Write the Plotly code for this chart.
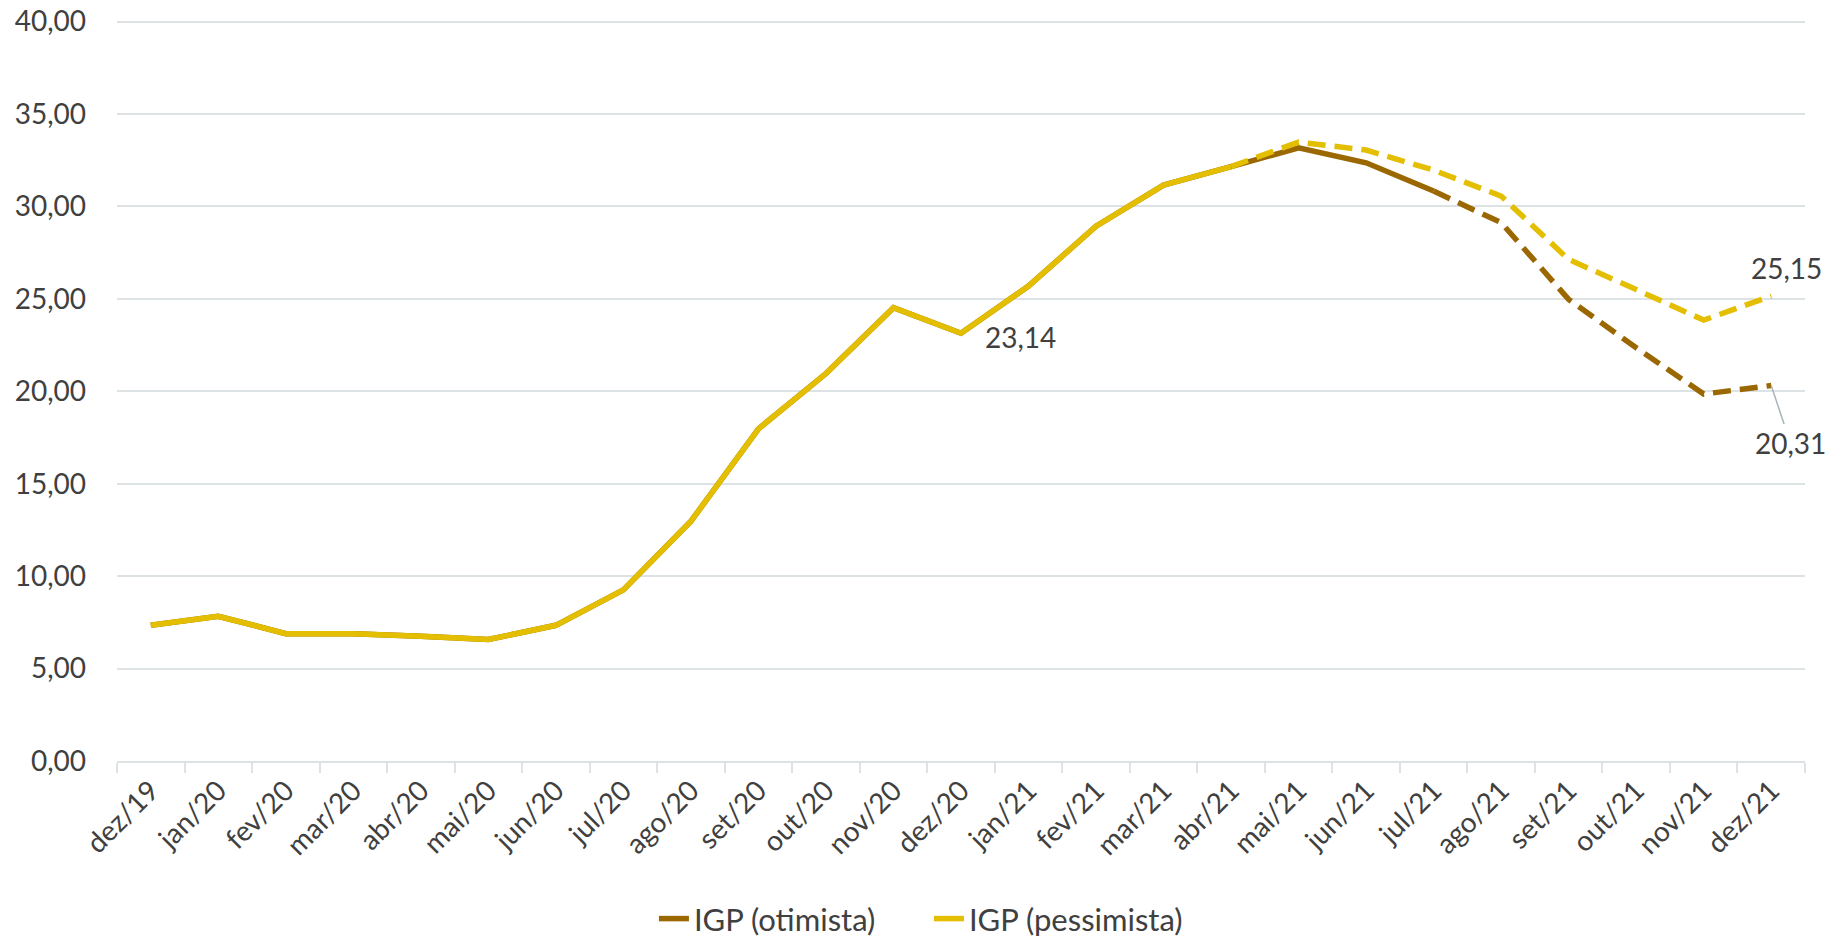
import plotly.graph_objects as go

categories = ["dez/19", "jan/20", "fev/20", "mar/20", "abr/20", "mai/20", "jun/20",
              "jul/20", "ago/20", "set/20", "out/20", "nov/20", "dez/20", "jan/21",
              "fev/21", "mar/21", "abr/21", "mai/21", "jun/21", "jul/21", "ago/21",
              "set/21", "out/21", "nov/21", "dez/21"]

otimista = [7.34, 7.83, 6.89, 6.89, 6.75, 6.57, 7.34, 9.26, 12.97, 17.97, 20.96, 24.52,
            23.14, 25.69, 28.93, 31.15, 32.15, 33.17, 32.36, 30.83, 29.12, 24.97, 22.35,
            19.85, 20.31]
pessimista = [7.34, 7.83, 6.89, 6.89, 6.75, 6.57, 7.34, 9.26, 12.97, 17.97, 20.96, 24.52,
              23.14, 25.69, 28.93, 31.15, 32.15, 33.48, 33.05, 31.96, 30.56, 27.13, 25.5,
              23.85, 25.15]

otim_solid_end = 19   # jul/21
pess_solid_end = 16   # abr/21

y_ticks = [0, 5, 10, 15, 20, 25, 30, 35, 40]

C_OTIM = "#9A6700"
C_PESS = "#E4BE00"
TXT = "#404040"
GRID = "#DDE2E5"
FONT = "Lato"
LW = 5.5
DASH = "18px,9px"

fig = go.Figure()
fig.add_trace(go.Scatter(x=categories[:otim_solid_end + 1], y=otimista[:otim_solid_end + 1],
                         mode="lines", name="IGP (otimista)", legendgroup="o",
                         line=dict(color=C_OTIM, width=LW)))
fig.add_trace(go.Scatter(x=categories[otim_solid_end:], y=otimista[otim_solid_end:],
                         mode="lines", name="IGP (otimista)", legendgroup="o", showlegend=False,
                         line=dict(color=C_OTIM, width=LW, dash=DASH)))
fig.add_trace(go.Scatter(x=categories[:pess_solid_end + 1], y=pessimista[:pess_solid_end + 1],
                         mode="lines", name="IGP (pessimista)", legendgroup="p",
                         line=dict(color=C_PESS, width=LW)))
fig.add_trace(go.Scatter(x=categories[pess_solid_end:], y=pessimista[pess_solid_end:],
                         mode="lines", name="IGP (pessimista)", legendgroup="p", showlegend=False,
                         line=dict(color=C_PESS, width=LW, dash=DASH)))

def fmt(v):
    return f"{v:.2f}".replace(".", ",")

i_dez20 = categories.index("dez/20")
fig.add_annotation(x=categories[i_dez20], y=pessimista[i_dez20], text=fmt(pessimista[i_dez20]),
                   showarrow=False, xshift=59, yshift=-4,
                   font=dict(family=FONT, size=28, color=TXT))
fig.add_annotation(x=categories[-1], y=pessimista[-1], text=fmt(pessimista[-1]),
                   showarrow=False, xshift=15, yshift=28,
                   font=dict(family=FONT, size=28, color=TXT))
fig.add_annotation(x=categories[-1], y=otimista[-1], text=fmt(otimista[-1]),
                   showarrow=True, arrowhead=0, arrowwidth=1.5, arrowcolor="#A9B4BA",
                   ax=19, ay=57, standoff=0,
                   font=dict(family=FONT, size=28, color=TXT))

fig.update_layout(
    width=1832, height=939,
    autosize=False,
    margin=dict(l=117, r=27, t=16, b=178, autoexpand=False),
    paper_bgcolor="white", plot_bgcolor="white",
    separators=",.",
    font=dict(family=FONT, size=28, color=TXT),
    showlegend=True,
    legend=dict(orientation="h", x=0.481, xanchor="center",
                y=-0.212, yanchor="middle", entrywidth=230,
                font=dict(family=FONT, size=31, color=TXT),
                bgcolor="rgba(0,0,0,0)"),
    xaxis=dict(type="category", range=[-0.5, len(categories) - 0.5],
               showgrid=False, showline=True, linecolor=GRID, linewidth=2,
               ticks="outside", tickson="boundaries", ticklen=10, tickcolor=GRID, tickwidth=2,
               tickangle=-45, automargin=False,
               tickfont=dict(family=FONT, size=28, color=TXT)),
    yaxis=dict(range=[0, 40.3], tickvals=y_ticks, tickformat=".2f",
               showgrid=True, gridcolor=GRID, gridwidth=2, zeroline=False, showline=False,
               ticks="", ticklabelstandoff=30, automargin=False, ticklabeloverflow="allow",
               tickfont=dict(family=FONT, size=28, color=TXT)),
)

# remove the default 8px page margin so the figure fills the 1832x939 window exactly
fig.write_html("out.html",
               config={"displayModeBar": False},
               post_script="document.body.style.margin='0';document.body.style.overflow='hidden';")
